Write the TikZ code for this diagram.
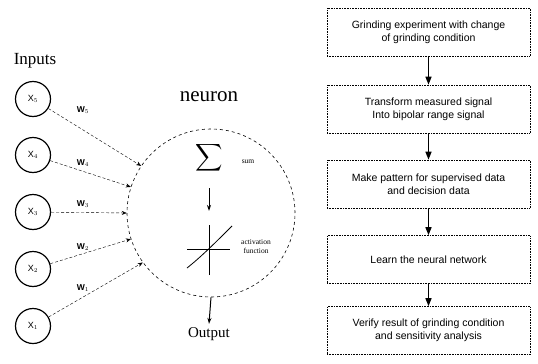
\documentclass[tikz,border=0pt]{standalone}
\usepackage{fontspec}
\setmainfont{Liberation Serif}
\setsansfont{Liberation Sans}
\usetikzlibrary{positioning,arrows.meta}
\newcommand\boxw{203pt}
\newcommand\boxh{48pt}
\newcommand\flowx{428.5}
\tikzset{inp/.style={circle,draw=black,line width=1.2pt,minimum size=35pt,inner sep=0pt,font=\sffamily\fontsize{9}{10}\selectfont},
  stepbox/.style={rectangle,draw=black,densely dotted,semithick,minimum width=\boxw,minimum height=\boxh,align=center,font=\sffamily\fontsize{10.5}{13}\selectfont},
  flow/.style={-{Triangle[length=8pt,width=6pt]},line width=1.4pt},
  wire/.style={densely dashed,thin,-{Stealth[length=5pt,width=4pt]}},
  wlabel/.style={font=\sffamily\bfseries\fontsize{8.5}{9}\selectfont}}

\begin{document}
\begin{tikzpicture}[x=1pt,y=-1pt]
\useasboundingbox (0,0) rectangle (538,364);
% neuron model
\node[font=\fontsize{17}{18}\selectfont] (inputs) at (35,61) {Inputs};
\node[font=\fontsize{21}{23}\selectfont] (neuron) at (209,97) {neuron};
\node[circle,draw=black,dashed,semithick,minimum size=168pt,inner sep=0pt] (cell) at (211,213) {};
\foreach \i/\y/\a/\wy in {5/99/146/110, 4/155/162/163, 3/212/180/204, 2/269/198/247, 1/326/216/288}{
  \node[inp] (x\i) at (33,\y) {X$_{\i}$};
  \draw[wire] (x\i) -- (cell.\a);
  \node[wlabel] (w\i) at (83,\wy) {W$_{\i}$};
}
\node[scale=1.9] (sum) at (209,158) {$\displaystyle\sum$};
\node[font=\fontsize{7.5}{8}\selectfont] (sumtxt) at (248,162) {sum};
\coordinate (s1) at (209,188);
\coordinate (s2) at (209,211);
\draw[-{Stealth[length=6pt,width=4pt]},line width=1pt] (s1) -- (s2);
% activation function
\coordinate (act) at (209,249);
\draw[thick] ([yshift=-26pt]act) -- ([yshift=24pt]act);
\draw[thick] ([xshift=-22pt]act) -- ([xshift=21pt]act);
\draw[thick] ([shift={(-22pt,-19pt)}]act) .. controls ([shift={(-8pt,-8pt)}]act) and ([shift={(8pt,8pt)}]act) .. ([shift={(23pt,23pt)}]act);
\node[font=\fontsize{7.5}{9}\selectfont,align=center] (acttxt) at (256,247) {activation\\function};
\node[font=\fontsize{15}{16}\selectfont] (output) at (209,334) {Output};
\draw[-{Stealth[length=6pt,width=4pt]},line width=1pt] (cell.south) -- (output.north);
% flow chart
\node[stepbox] (b1) at (\flowx,32) {Grinding experiment with change\\of grinding condition};
\node[stepbox] (b2) at (\flowx,109) {Transform measured signal\\Into bipolar range signal};
\node[stepbox] (b3) at (\flowx,184) {Make pattern for supervised data\\and decision data};
\node[stepbox] (b4) at (\flowx,259.5) {Learn the neural network};
\node[stepbox] (b5) at (\flowx,330.5) {Verify result of grinding condition\\and sensitivity analysis};
\foreach \p/\q in {b1/b2,b2/b3,b3/b4,b4/b5}\draw[flow] (\p) -- (\q);
\end{tikzpicture}
\end{document}
